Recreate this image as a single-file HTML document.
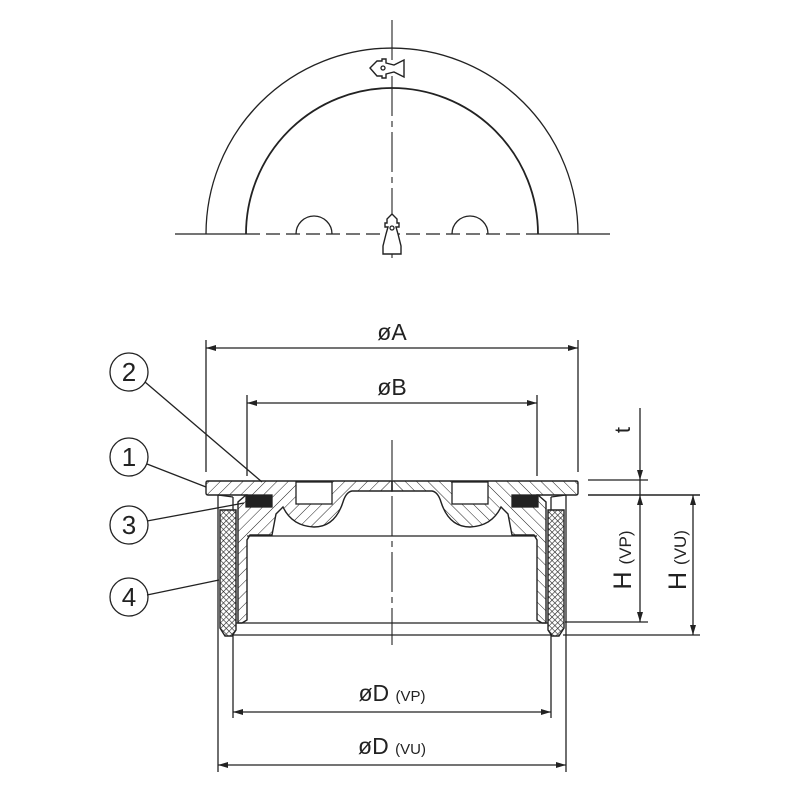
<!DOCTYPE html>
<html><head><style>body{margin:0;background:#fff}svg{display:block}</style></head><body>
<svg width="800" height="800" viewBox="0 0 800 800" xmlns="http://www.w3.org/2000/svg" font-family="Liberation Sans, sans-serif">
<defs>
<pattern id="h" width="8" height="8" patternUnits="userSpaceOnUse" patternTransform="rotate(45)"><line x1="0" y1="0" x2="0" y2="8" stroke="#222" stroke-width="1"/></pattern>
<pattern id="x" width="4" height="4" patternUnits="userSpaceOnUse" patternTransform="rotate(45)"><rect width="4" height="4" fill="#fff"/><line x1="0" y1="0" x2="0" y2="4" stroke="#222" stroke-width="1.2"/><line x1="0" y1="0" x2="4" y2="0" stroke="#222" stroke-width="1.2"/></pattern>
<marker id="a" viewBox="0 0 10 6" refX="10" refY="3" markerWidth="10" markerHeight="6" markerUnits="userSpaceOnUse" orient="auto-start-reverse"><path d="M0,0L10,3L0,6z" fill="#222"/></marker>
</defs>
<g stroke="#222" fill="none" stroke-width="1.3">
<path d="M206,234 A186,186 0 0 1 578,234"/>
<path d="M246,234 A146,146 0 0 1 538,234" stroke-width="1.8"/>
<path d="M296,234 A18,18 0 0 1 332,234"/>
<path d="M452,234 A18,18 0 0 1 488,234"/>
<line x1="175" y1="234" x2="246" y2="234"/>
<line x1="538" y1="234" x2="610" y2="234"/>
<line x1="246" y1="234" x2="538" y2="234" stroke-dasharray="14,6"/>
<line x1="392" y1="20" x2="392" y2="258" stroke-dasharray="40,5,6,5" stroke-width="1.1"/>
<path d="M370,68 L377,61 H382 V59 H386 V63 L394,65 L404,60 V77 L394,72 L386,74 V78 H382 V76 H377 Z" fill="#fff" stroke-width="1.4"/>
<circle cx="383" cy="68" r="2"/>
<path d="M392,214 L387,219 V223 H385 V227 H388 L386,234 L383,246 V254 H401 V246 L398,234 L396,227 H399 V223 H397 V219 Z" fill="#fff" stroke-width="1.4"/>
<circle cx="392" cy="228" r="2"/>

<line x1="392" y1="440" x2="392" y2="645" stroke-dasharray="40,5,6,5" stroke-width="1.1"/>
<line x1="206" y1="340" x2="206" y2="472"/><line x1="578" y1="340" x2="578" y2="472"/>
<line x1="247" y1="395" x2="247" y2="476"/><line x1="537" y1="395" x2="537" y2="476"/>
<line x1="218" y1="495" x2="218" y2="772"/><line x1="566" y1="495" x2="566" y2="772"/>
<line x1="233" y1="630" x2="233" y2="718"/><line x1="551" y1="630" x2="551" y2="718"/>
<line x1="206" y1="348" x2="578" y2="348" marker-start="url(#a)" marker-end="url(#a)"/>
<line x1="247" y1="403" x2="537" y2="403" marker-start="url(#a)" marker-end="url(#a)"/>
<line x1="233" y1="712" x2="551" y2="712" marker-start="url(#a)" marker-end="url(#a)"/>
<line x1="218" y1="765" x2="566" y2="765" marker-start="url(#a)" marker-end="url(#a)"/>
<line x1="588" y1="480" x2="648" y2="480"/>
<line x1="588" y1="495" x2="700" y2="495" stroke-width="1.6"/>
<line x1="565" y1="622" x2="648" y2="622"/>
<line x1="563" y1="635" x2="700" y2="635"/>
<line x1="640" y1="408" x2="640" y2="480" marker-end="url(#a)"/>
<line x1="640" y1="480" x2="640" y2="495"/>
<line x1="640" y1="495" x2="640" y2="622" marker-start="url(#a)" marker-end="url(#a)"/>
<line x1="693" y1="495" x2="693" y2="635" marker-start="url(#a)" marker-end="url(#a)"/>

<line x1="247" y1="536" x2="537" y2="536"/>
<line x1="236" y1="623" x2="548" y2="623"/>
<line x1="233" y1="635" x2="551" y2="635"/>

<g id="half">
<path d="M206,483 Q206,481 208,481 H392 V491 H352 Q346,492 343,502 Q335,527 314,527 Q292,526 283,507 L276,514 L272,535 H250 L247,540 V620 L242,623 H238 V502 L246,495 H208 Q206,495 206,493 Z" fill="url(#h)" stroke-width="1.4"/>
<rect x="296" y="482" width="36" height="22" fill="#fff" stroke-width="1.3"/>
<rect x="246" y="495" width="26" height="12" fill="#222"/>
<path d="M220,510 H236 V630 L232,636 H225 L220,628 Z" fill="url(#x)" stroke-width="1.4"/>
<line x1="233" y1="497" x2="233" y2="510"/>
<line x1="218" y1="495" x2="233" y2="497"/>
</g>
<use href="#half" transform="translate(784,0) scale(-1,1)"/>

<circle cx="129" cy="372" r="19"/><circle cx="129" cy="457" r="19"/>
<circle cx="129" cy="525" r="19"/><circle cx="129" cy="597" r="19"/>
<line x1="145" y1="382" x2="262" y2="482"/>
<line x1="147" y1="464" x2="206" y2="487"/>
<line x1="147" y1="521" x2="244" y2="503"/>
<line x1="147" y1="595" x2="219" y2="580"/>
</g>
<g fill="#222" font-size="26" text-anchor="middle">
<text x="129" y="381">2</text><text x="129" y="466">1</text>
<text x="129" y="534">3</text><text x="129" y="606">4</text>
<text x="392" y="340" font-size="23">øA</text>
<text x="392" y="395" font-size="23">øB</text>
<text x="392" y="701" font-size="23">øD <tspan font-size="15">(VP)</tspan></text>
<text x="392" y="754" font-size="23">øD <tspan font-size="15">(VU)</tspan></text>
<text transform="translate(630,430) rotate(-90)" font-size="22">t</text>
<text transform="translate(631,560) rotate(-90)" font-size="25">H <tspan font-size="17">(VP)</tspan></text>
<text transform="translate(686,560) rotate(-90)" font-size="25">H <tspan font-size="17">(VU)</tspan></text>
</g>
</svg>
</body></html>
